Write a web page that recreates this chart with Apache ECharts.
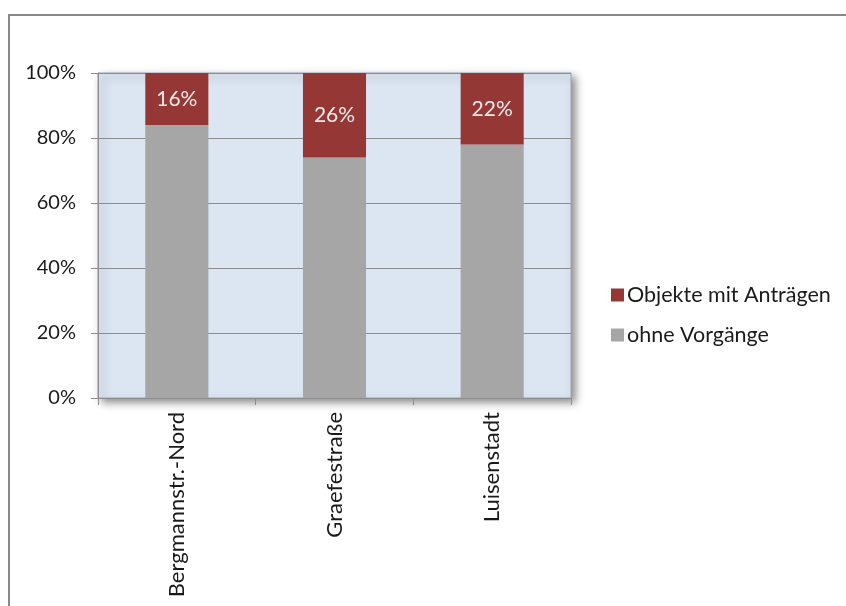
<!DOCTYPE html>
<html>
<head>
<meta charset="utf-8">
<script src="https://cdn.jsdelivr.net/npm/echarts@6/dist/echarts.min.js"></script>
<style>html,body{margin:0;padding:0;background:#fff;}#c{width:846px;height:606px;}</style>
</head>
<body>
<div id="c"></div>
<script>
var categories = ['Bergmannstr.-Nord', 'Graefestraße', 'Luisenstadt'];
var ohneVorgaenge = [84, 74, 78];
var objekteMitAntraegen = [16, 26, 22];
var yTicks = [0, 20, 40, 60, 80, 100];

var chart = echarts.init(document.getElementById('c'));
var font = 'Lato, "Open Sans", sans-serif';
chart.setOption({
  animation: false,
  textStyle: { fontFamily: font },
  graphic: [{
    type: 'rect', z: -10,
    shape: { x: 9, y: 15, width: 900, height: 700 },
    style: { fill: '#fff', stroke: '#898989', lineWidth: 2 }
  }],
  grid: {
    left: 98, top: 73, width: 473, height: 325,
    show: true, backgroundColor: '#dce6f2', borderColor: '#9aa5b4', borderWidth: 1,
    shadowColor: 'rgba(0,0,0,0.45)', shadowBlur: 8, shadowOffsetX: 4, shadowOffsetY: 4
  },
  legend: {
    orient: 'vertical', left: 606, top: 279,
    itemWidth: 13, itemHeight: 13, itemGap: 18,
    icon: 'rect',
    data: ['Objekte mit Anträgen', 'ohne Vorgänge'],
    textStyle: { fontFamily: font, fontSize: 21.5, color: '#1a1a1a', padding: [0,0,0,-2] }
  },
  xAxis: {
    type: 'category', data: categories,
    axisLine: { lineStyle: { color: '#8c8c8c' } },
    axisTick: { show: true, length: 7, lineStyle: { color: '#8c8c8c' } },
    axisLabel: { rotate: 90, fontSize: 22, color: '#1a1a1a', margin: 14, fontFamily: font }
  },
  yAxis: {
    type: 'value', min: 0, max: 100, interval: 20,
    axisLine: { show: true, lineStyle: { color: '#8c8c8c' } },
    axisTick: { show: true, length: 7, lineStyle: { color: '#8c8c8c' } },
    splitLine: { lineStyle: { color: '#8c8c8c' } },
    axisLabel: { formatter: '{value}%', fontSize: 20, color: '#1a1a1a', margin: 22, fontFamily: font }
  },
  series: [{
    name: 'ohne Vorgänge', type: 'bar', stack: 'a', barWidth: '40%',
    data: ohneVorgaenge, itemStyle: { color: '#a6a6a6' }
  }, {
    name: 'Objekte mit Anträgen', type: 'bar', stack: 'a', barWidth: '40%',
    data: objekteMitAntraegen, itemStyle: { color: '#953735' },
    label: { show: true, position: 'inside', formatter: '{c}%', color: '#f2eaea', fontSize: 21, fontFamily: font }
  }]
});
</script>
</body>
</html>
